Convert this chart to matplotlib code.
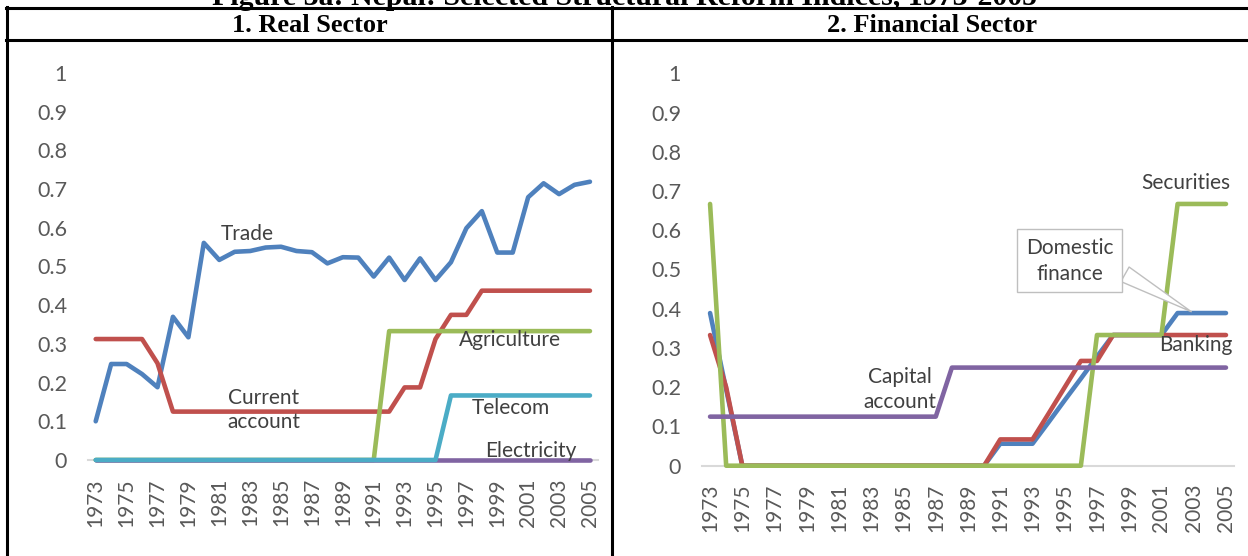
import matplotlib
matplotlib.use("Agg")
import matplotlib.pyplot as plt
from matplotlib.lines import Line2D

plt.rcParams['font.family'] = ['Lato', 'DejaVu Sans']

years = list(range(1973, 2006))
year_ticks = list(range(1973, 2006, 2))

# 1. Real sector indices
trade = [0.10, 0.248, 0.248, 0.222, 0.188, 0.37, 0.317, 0.561, 0.517, 0.538,
         0.54, 0.549, 0.551, 0.54, 0.537, 0.508, 0.524, 0.523, 0.474, 0.523,
         0.465, 0.521, 0.465, 0.511, 0.599, 0.643, 0.536, 0.536, 0.679, 0.715,
         0.687, 0.711, 0.719]
current_account = [0.3125, 0.3125, 0.3125, 0.3125, 0.25, 0.125, 0.125, 0.125,
                   0.125, 0.125, 0.125, 0.125, 0.125, 0.125, 0.125, 0.125,
                   0.125, 0.125, 0.125, 0.125, 0.1875, 0.1875, 0.3125, 0.375,
                   0.375, 0.4375, 0.4375, 0.4375, 0.4375, 0.4375, 0.4375,
                   0.4375, 0.4375]
agriculture = [0, 0, 0, 0, 0, 0, 0, 0, 0, 0, 0, 0, 0, 0, 0, 0, 0, 0, 0,
               0.333, 0.333, 0.333, 0.333, 0.333, 0.333, 0.333, 0.333, 0.333,
               0.333, 0.333, 0.333, 0.333, 0.333]
electricity = [0, 0, 0, 0, 0, 0, 0, 0, 0, 0, 0, 0, 0, 0, 0, 0, 0, 0, 0, 0,
               0, 0, 0, 0, 0, 0, 0, 0, 0, 0, 0, 0, 0]
telecom = [0, 0, 0, 0, 0, 0, 0, 0, 0, 0, 0, 0, 0, 0, 0, 0, 0, 0, 0, 0, 0, 0,
           0, 0.1667, 0.1667, 0.1667, 0.1667, 0.1667, 0.1667, 0.1667, 0.1667,
           0.1667, 0.1667]

# 2. Financial sector indices
domestic_finance = [0.389, 0.194, 0, 0, 0, 0, 0, 0, 0, 0, 0, 0, 0, 0, 0, 0,
                    0, 0, 0.056, 0.056, 0.056, 0.111, 0.167, 0.222, 0.278,
                    0.333, 0.333, 0.333, 0.333, 0.389, 0.389, 0.389, 0.389]
banking = [0.333, 0.2, 0, 0, 0, 0, 0, 0, 0, 0, 0, 0, 0, 0, 0, 0, 0, 0,
           0.067, 0.067, 0.067, 0.133, 0.2, 0.267, 0.267, 0.333, 0.333, 0.333,
           0.333, 0.333, 0.333, 0.333, 0.333]
securities = [0.667, 0, 0, 0, 0, 0, 0, 0, 0, 0, 0, 0, 0, 0, 0, 0, 0, 0, 0, 0,
              0, 0, 0, 0, 0.333, 0.333, 0.333, 0.333, 0.333, 0.667, 0.667,
              0.667, 0.667]
capital_account = [0.125, 0.125, 0.125, 0.125, 0.125, 0.125, 0.125, 0.125,
                   0.125, 0.125, 0.125, 0.125, 0.125, 0.125, 0.125, 0.25, 0.25,
                   0.25, 0.25, 0.25, 0.25, 0.25, 0.25, 0.25, 0.25, 0.25, 0.25,
                   0.25, 0.25, 0.25, 0.25, 0.25, 0.25]

BLUE = '#4F81BD'
RED = '#C0504D'
GREEN = '#9BBB59'
PURPLE = '#8064A2'
AQUA = '#4BACC6'
TICK_C = '#595959'
LABEL_C = '#404040'


def style_axis(ax):
    ax.set_xlim(1972.5, 2005.5)
    ax.set_ylim(0, 1)
    for s in ax.spines.values():
        s.set_visible(False)
    # light baseline at zero, under the series
    ax.axhline(0, color='#D9D9D9', lw=1.5, zorder=0.5, clip_on=False)
    ax.set_xticks(year_ticks)
    ax.set_xticklabels([str(y) for y in year_ticks], rotation=90)
    ax.set_yticks([i / 10 for i in range(11)])
    ax.set_yticklabels(['0'] + ['0.%d' % i for i in range(1, 10)] + ['1'])
    ax.tick_params(axis='both', length=0, colors=TICK_C)
    ax.tick_params(axis='y', labelsize=15.5, pad=15)
    ax.tick_params(axis='x', labelsize=15, pad=13)
    ax.patch.set_alpha(0)


def draw(ax, y, color):
    ax.plot(years, y, color=color, lw=3.3, solid_capstyle='round',
            solid_joinstyle='round', clip_on=False, zorder=2)


fig = plt.figure(figsize=(12.48, 5.56), dpi=100)

ax1 = fig.add_axes([0.0705, 0.1727, 0.4084, 0.696])
style_axis(ax1)
draw(ax1, trade, BLUE)
draw(ax1, current_account, RED)
draw(ax1, agriculture, GREEN)
draw(ax1, electricity, PURPLE)
draw(ax1, telecom, AQUA)

lab = dict(fontsize=15, color=LABEL_C, ha='center', va='center', zorder=5)
ax1.text(1982.8, 0.584, 'Trade', **lab)
ax1.text(1983.9, 0.129, 'Current\naccount', linespacing=1.3, **lab)
ax1.text(1999.8, 0.31, 'Agriculture', **lab)
ax1.text(1999.9, 0.134, 'Telecom', **lab)
ax1.text(2001.2, 0.022, 'Electricity', **lab)

ax2 = fig.add_axes([0.5625, 0.1624, 0.4263, 0.7058])
style_axis(ax2)
draw(ax2, domestic_finance, BLUE)
draw(ax2, banking, RED)
draw(ax2, securities, GREEN)
draw(ax2, capital_account, PURPLE)

ax2.text(2002.5, 0.72, 'Securities', **lab)
ax2.text(2003.1, 0.307, 'Banking', **lab)
ax2.text(1984.8, 0.195, 'Capital\naccount', linespacing=1.3, **lab)
ax2.annotate('Domestic\nfinance', xy=(2003, domestic_finance[-1]),
             xytext=(1995.3, 0.522), textcoords='data',
             fontsize=15, color=LABEL_C, ha='center', va='center',
             linespacing=1.35, zorder=6,
             bbox=dict(boxstyle='square,pad=0.42', fc='white', ec='#BFBFBF',
                       lw=1),
             arrowprops=dict(arrowstyle='wedge,tail_width=0.8,shrink_factor=0.5',
                             fc='white', ec='#BFBFBF', lw=1,
                             relpos=(1.0, 0.35)))

# table frame around the two panels
W, H = 1248.0, 556.0


def hline(y, x0, x1):
    fig.add_artist(Line2D([x0 / W, x1 / W], [1 - y / H, 1 - y / H],
                          color='black', lw=2.2, transform=fig.transFigure))


def vline(x, y0, y1):
    fig.add_artist(Line2D([x / W, x / W], [1 - y0 / H, 1 - y1 / H],
                          color='black', lw=2.2, transform=fig.transFigure))


hline(7.5, 6, 1248)
hline(40, 6, 1248)
vline(7, 6.5, 556)
vline(612, 6.5, 556)

fig.text(310 / W, 1 - 25 / H, '1. Real Sector', family='Liberation Serif',
         weight='bold', fontsize=19, ha='center', va='center')
fig.text(932 / W, 1 - 25 / H, '2. Financial Sector', family='Liberation Serif',
         weight='bold', fontsize=19, ha='center', va='center')
fig.text(625 / W, 1 - 5 / H,
         'Figure 3a: Nepal: Selected Structural Reform Indices, 1973-2005',
         family='Liberation Serif', weight='bold', fontsize=21.5,
         ha='center', va='baseline')

fig.savefig('out.png', dpi=100)
